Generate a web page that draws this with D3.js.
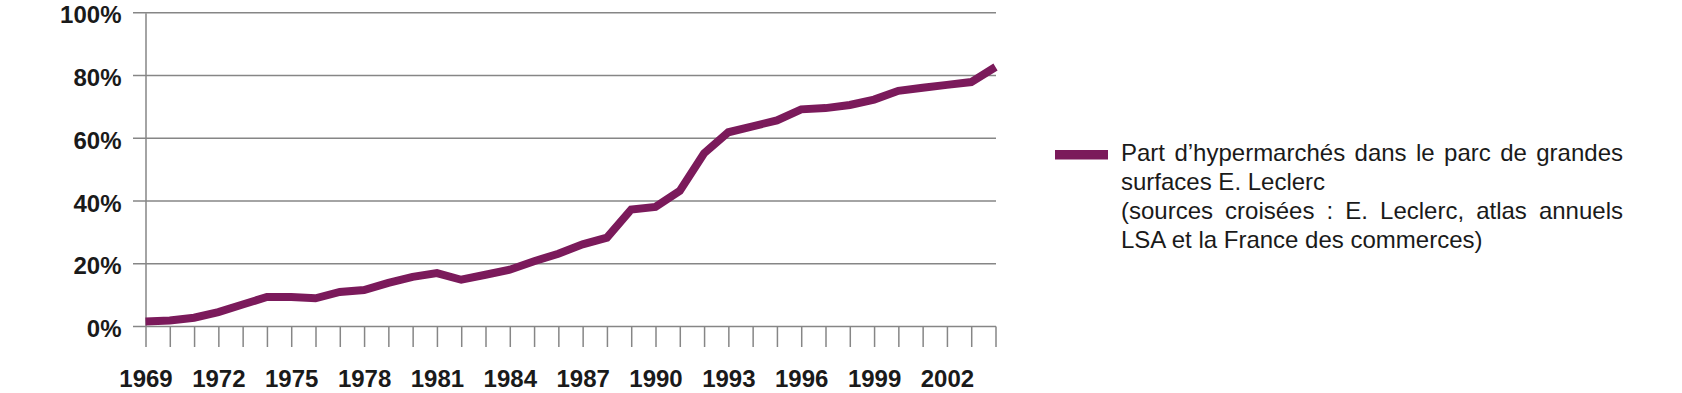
<!DOCTYPE html>
<head>
  <meta charset="utf-8">
  <script src="https://d3js.org/d3.v7.min.js"></script>
</head>
<style>
  body { margin: 0; background: #fff; }
  .axisText { font: bold 24px "Liberation Sans", Arial, sans-serif; fill: #1a1a1a; }
  .legendText { font: 24px "Liberation Sans", Arial, sans-serif; fill: #1a1a1a; }
</style>
<body>
  <svg id="svg_line"></svg>
</body>
<script>
  // years on the category axis
  var years = d3.range(1969, 2005);
  // share of hypermarkets (%), one per year
  var shares = [1.6, 1.9, 2.8, 4.6, 7.0, 9.4, 9.4, 9.0, 11.0, 11.6,
                13.9, 15.8, 17.0, 14.9, 16.5, 18.1, 20.8, 23.2, 26.2, 28.3,
                37.3, 38.1, 43.2, 55.2, 61.9, 63.8, 65.7, 69.2, 69.6, 70.6,
                72.3, 75.1, 76.1, 77.0, 77.9, 82.7];
  var yTicks = [0, 20, 40, 60, 80, 100];
  var xLabelYears = d3.range(1969, 2003, 3);
  var legendLines = [
    "Part d’hypermarchés dans le parc de grandes",
    "surfaces E. Leclerc",
    "(sources croisées : E. Leclerc, atlas annuels",
    "LSA et la France des commerces)"
  ];
  var justified = [true, false, true, false];

  var w = 1682, h = 393;
  var plot = {left: 145.5, right: 995.5, top: 12.7, bottom: 326.5};
  var lineColor = "#7b1a5b";
  var gridColor = "#868686";

  var svg = d3.select("#svg_line").attr("width", w).attr("height", h);

  var x = d3.scalePoint().domain(years).range([plot.left, plot.right]);
  var y = d3.scaleLinear().domain([0, 100]).range([plot.bottom, plot.top]);

  // horizontal grid lines (they poke out left of the axis a little)
  svg.append("g").selectAll("line")
      .data(yTicks)
      .enter().append("line")
      .attr("x1", plot.left - 12.5)
      .attr("x2", plot.right + 0.5)
      .attr("y1", function(d){ return y(d); })
      .attr("y2", function(d){ return y(d); })
      .attr("stroke", gridColor)
      .attr("stroke-width", 1.5);

  // y axis
  var yAxis = d3.axisLeft(y)
      .tickValues(yTicks)
      .tickSize(0)
      .tickPadding(24)
      .tickFormat(function(d){ return d + "%"; });
  var gy = svg.append("g")
      .attr("transform", "translate(" + plot.left + ",0)")
      .call(yAxis);
  gy.select(".domain").attr("stroke", gridColor).attr("stroke-width", 1.5);
  gy.selectAll("text")
      .attr("class", "axisText")
      .attr("font-family", null).attr("font-size", null)
      .attr("dy", "0.42em");

  // x axis: a tick for every year, a label every three years
  var xAxis = d3.axisBottom(x)
      .tickSizeInner(20.5)
      .tickSizeOuter(0)
      .tickFormat(function(d){ return xLabelYears.indexOf(d) >= 0 ? d : ""; });
  var gx = svg.append("g")
      .attr("transform", "translate(0," + plot.bottom + ")")
      .call(xAxis);
  gx.select(".domain").remove();
  gx.selectAll(".tick line").attr("stroke", gridColor).attr("stroke-width", 1.5);
  gx.selectAll("text")
      .attr("class", "axisText")
      .attr("font-family", null).attr("font-size", null)
      .attr("y", 60.5)
      .attr("dy", 0);

  // the series
  var line = d3.line()
      .x(function(d, i){ return x(years[i]); })
      .y(function(d){ return y(d); });
  svg.append("path")
      .datum(shares)
      .attr("d", line)
      .attr("fill", "none")
      .attr("stroke", lineColor)
      .attr("stroke-width", 8)
      .attr("stroke-linejoin", "miter");

  // legend
  var legend = svg.append("g").attr("transform", "translate(1055,0)");
  legend.append("rect")
      .attr("x", 0).attr("y", 150)
      .attr("width", 53).attr("height", 9.5)
      .attr("fill", lineColor);
  var justifyWidth = 502;
  legend.selectAll("text.legendText")
      .data(legendLines)
      .enter().append("text")
      .attr("class", "legendText")
      .attr("x", 66)
      .attr("y", function(d, i){ return 160.5 + i * 29.3; })
      .text(function(d){ return d; })
      .each(function(d, i){
        if (!justified[i]) return;
        var natural = this.getComputedTextLength();
        var gaps = d.split(" ").length - 1;
        d3.select(this).attr("word-spacing", (justifyWidth - natural) / gaps);
      });
</script>
